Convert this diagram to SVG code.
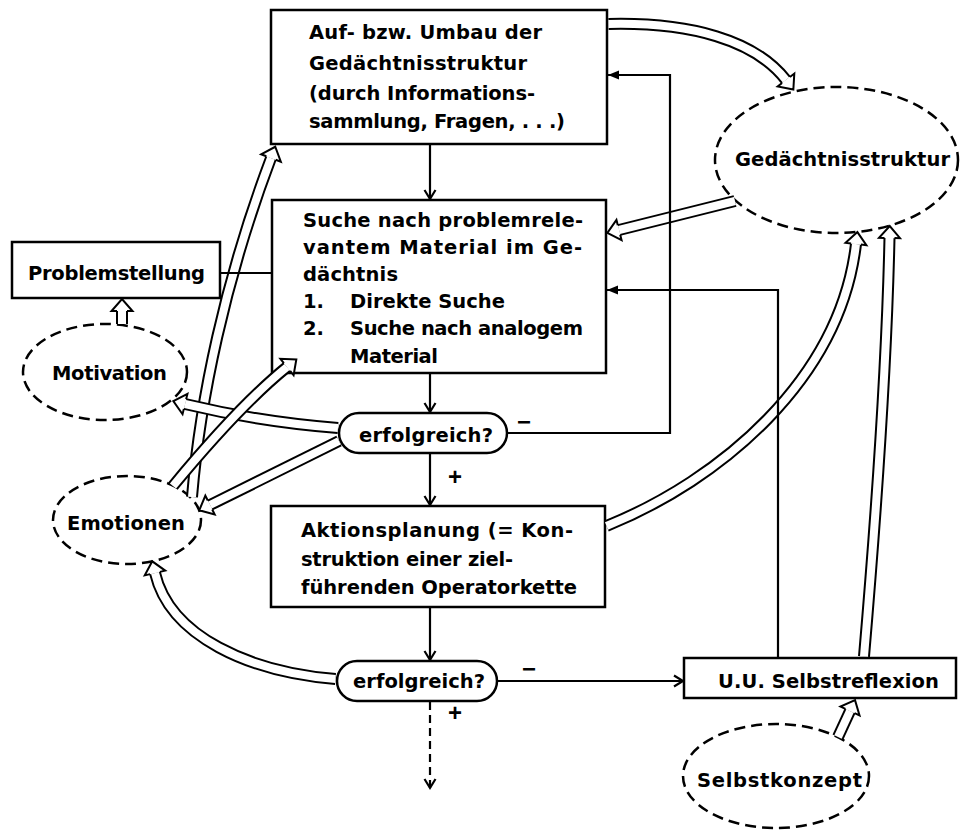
<svg xmlns="http://www.w3.org/2000/svg" width="961" height="830" viewBox="0 0 961 830">
<defs>
<style>
.box{fill:#fff;stroke:#000;stroke-width:2.5}
.ell{fill:#fff;stroke:#000;stroke-width:2.5;stroke-dasharray:11 6}
.t{font-family:"DejaVu Sans","Liberation Sans",Arial,sans-serif;font-size:19.5px;font-weight:bold;fill:#000}
.sg{font-family:"Liberation Sans",Arial,Helvetica,sans-serif;font-size:24px;font-weight:bold;fill:#000;text-anchor:middle}
.ho{fill:none;stroke:#000;stroke-width:12}
.hi{fill:none;stroke:#fff;stroke-width:8;marker-end:url(#ha)}
.ln{fill:none;stroke:#000;stroke-width:2.2}
.v{marker-end:url(#mv)}
.tr{marker-end:url(#mt)}
</style>
<marker id="ha" markerUnits="userSpaceOnUse" orient="auto" refX="0" refY="0" markerWidth="40" markerHeight="40" overflow="visible">
<polyline points="0,-5 0,-10.5 12,0 0,10.5 0,5" fill="#fff" stroke="#000" stroke-width="2" stroke-linejoin="miter"/>
</marker>
<marker id="mv" markerUnits="userSpaceOnUse" orient="auto" refX="0" refY="0" markerWidth="30" markerHeight="30" overflow="visible">
<path d="M-9,-5.5 L0,0 L-9,5.5" fill="none" stroke="#000" stroke-width="2.2"/>
</marker>
<marker id="mt" markerUnits="userSpaceOnUse" orient="auto" refX="0" refY="0" markerWidth="30" markerHeight="30" overflow="visible">
<path d="M-11,-4.5 L0,0 L-11,4.5 Z" fill="#000"/>
</marker>
</defs>
<rect width="961" height="830" fill="#fff"/>

<g id="umbau">
  <rect class="box" x="271" y="10" width="336" height="134"/>
  <text class="t" x="309" y="39" textLength="233" lengthAdjust="spacing">Auf- bzw. Umbau der</text>
  <text class="t" x="309" y="70" textLength="218" lengthAdjust="spacing">Gedächtnisstruktur</text>
  <text class="t" x="309" y="100" textLength="226" lengthAdjust="spacing">(durch Informations-</text>
  <text class="t" x="309" y="128" textLength="256" lengthAdjust="spacing">sammlung, Fragen, . . .)</text>
</g>

<g id="suche">
  <rect class="box" x="272" y="200" width="334" height="173"/>
  <text class="t" x="303" y="227" textLength="280" lengthAdjust="spacing">Suche nach problemrele-</text>
  <text class="t" x="303" y="254" textLength="279" lengthAdjust="spacing">vantem Material im Ge-</text>
  <text class="t" x="303" y="281" textLength="95" lengthAdjust="spacing">dächtnis</text>
  <text class="t" x="303" y="308">1.</text>
  <text class="t" x="350" y="308" textLength="155" lengthAdjust="spacing">Direkte Suche</text>
  <text class="t" x="303" y="335">2.</text>
  <text class="t" x="350" y="335" textLength="233" lengthAdjust="spacing">Suche nach analogem</text>
  <text class="t" x="350" y="363" textLength="88" lengthAdjust="spacing">Material</text>
</g>

<g id="erfolgreich1">
  <rect class="box" x="339" y="413" width="168" height="40" rx="20"/>
  <text class="t" x="359" y="442" textLength="134" lengthAdjust="spacing">erfolgreich?</text>
</g>

<g id="aktionsplanung">
  <rect class="box" x="271" y="506" width="334" height="101"/>
  <text class="t" x="301" y="537" textLength="272" lengthAdjust="spacing">Aktionsplanung (= Kon-</text>
  <text class="t" x="301" y="566" textLength="212" lengthAdjust="spacing">struktion einer ziel-</text>
  <text class="t" x="301" y="594" textLength="276" lengthAdjust="spacing">führenden Operatorkette</text>
</g>

<g id="erfolgreich2">
  <rect class="box" x="337" y="661" width="160" height="40" rx="20"/>
  <text class="t" x="353" y="688" textLength="132" lengthAdjust="spacing">erfolgreich?</text>
</g>

<g id="problemstellung">
  <rect class="box" x="12" y="242" width="208" height="56"/>
  <text class="t" x="28" y="280" textLength="177" lengthAdjust="spacing">Problemstellung</text>
</g>

<g id="motivation">
  <ellipse class="ell" cx="105" cy="372" rx="82" ry="48"/>
  <text class="t" x="52" y="380" textLength="115" lengthAdjust="spacing">Motivation</text>
</g>

<g id="emotionen">
  <ellipse class="ell" cx="127" cy="520" rx="74" ry="44"/>
  <text class="t" x="67" y="530" textLength="118" lengthAdjust="spacing">Emotionen</text>
</g>

<g id="gedaechtnisstruktur">
  <ellipse class="ell" cx="836.5" cy="160" rx="121.5" ry="73"/>
  <text class="t" x="735" y="166" textLength="215" lengthAdjust="spacing">Gedächtnisstruktur</text>
</g>

<g id="selbstreflexion">
  <rect class="box" x="684" y="658" width="272" height="40"/>
  <text class="t" x="718" y="688" textLength="221" lengthAdjust="spacing">U.U. Selbstreflexion</text>
</g>

<g id="selbstkonzept">
  <ellipse class="ell" cx="776" cy="776" rx="93" ry="52"/>
  <text class="t" x="697" y="787" textLength="165" lengthAdjust="spacing">Selbstkonzept</text>
</g>

<g id="connectors">
  <g id="hollow-arrows">
    <path class="ho" d="M192,497 C200,400 225,280 271,158"/><path class="hi" d="M192,497 C200,400 225,280 271,158"/>
    <path class="ho" d="M338,428 Q260,422 185,404"/><path class="hi" d="M338,428 Q260,422 185,404"/>
    <path class="ho" d="M339,441 L210,505"/><path class="hi" d="M339,441 L210,505"/>
    <path class="ho" d="M173,486 Q240,405 287,367"/><path class="hi" d="M173,486 Q240,405 287,367"/>
    <path class="ho" d="M335.5,679 C250,672 170,637 155,573"/><path class="hi" d="M335.5,679 C250,672 170,637 155,573"/>
    <path class="ho" d="M608.5,24 C690,22 755,40 786,80"/><path class="hi" d="M608.5,24 C690,22 755,40 786,80"/>
    <path class="ho" d="M735,201 L619,230"/><path class="hi" d="M735,201 L619,230"/>
    <path class="ho" d="M606.5,526 C720,480 840,380 856,244"/><path class="hi" d="M606.5,526 C720,480 840,380 856,244"/>
    <path class="ho" d="M864,656.5 Q886,400 889.5,238"/><path class="hi" d="M864,656.5 Q886,400 889.5,238"/>
    <path class="ho" d="M838,737 L850,711"/><path class="hi" d="M838,737 L850,711"/>
    <path class="ho" d="M122,324 L122,311"/><path class="hi" d="M122,324 L122,311"/>
  </g>
  <g id="lines">
    <path class="ln v" d="M430,145 V199"/>
    <path class="ln v" d="M430,374 V412"/>
    <path class="ln v" d="M430,454 V505"/>
    <path class="ln v" d="M430,608 V660"/>
    <path class="ln v" d="M430,702 V788" stroke-dasharray="8 5"/>
    <path class="ln v" d="M498,681 H683"/>
    <path class="ln tr" d="M508,433 H670 V75 H608"/>
    <path class="ln tr" d="M778,657 V290 H607"/>
    <path class="ln" d="M220,273 H271"/>
  </g>
  <g id="signs">
    <text class="sg" x="524" y="430">−</text>
    <text class="sg" x="455" y="485">+</text>
    <text class="sg" x="529" y="677">−</text>
    <text class="sg" x="455" y="721">+</text>
  </g>
</g>
</svg>
